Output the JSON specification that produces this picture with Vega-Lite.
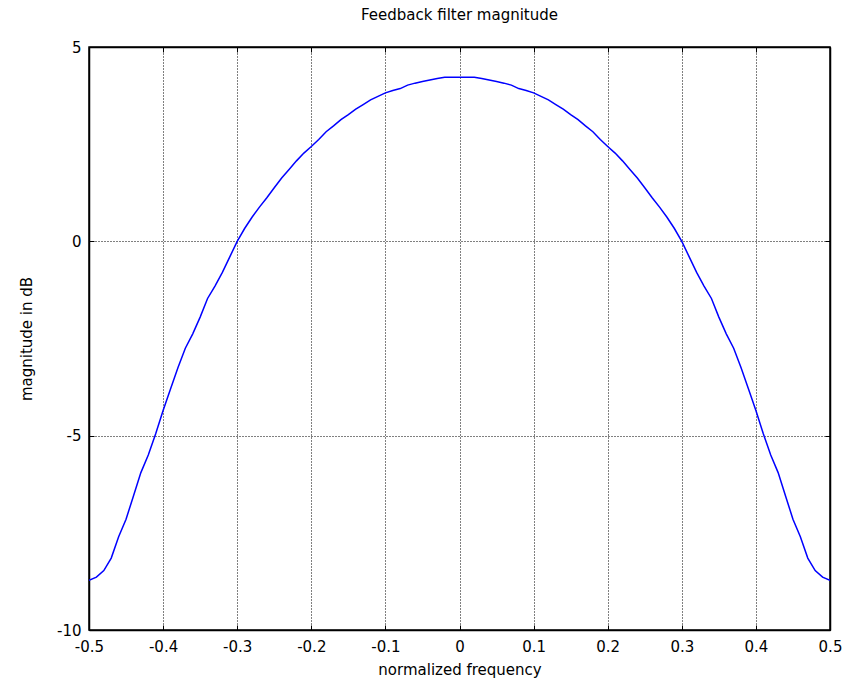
{
  "$schema": "https://vega.github.io/schema/vega-lite/v6.json",
  "width": 741,
  "height": 583,
  "autosize": {"type": "none"},
  "padding": {"left": 89, "top": 47, "right": 26, "bottom": 52},
  "background": "white",
  "title": {"text": "Feedback filter magnitude", "fontSize": 15, "fontWeight": "normal", "font": "DejaVu Sans", "color": "black", "offset": 17, "anchor": "middle"},
  "data": {"values": [
    {"f": -0.5, "db": -8.72}, {"f": -0.49, "db": -8.64}, {"f": -0.48, "db": -8.47}, {"f": -0.47, "db": -8.15},
    {"f": -0.46, "db": -7.6}, {"f": -0.45, "db": -7.15}, {"f": -0.44, "db": -6.55}, {"f": -0.43, "db": -5.95},
    {"f": -0.42, "db": -5.5}, {"f": -0.41, "db": -4.95}, {"f": -0.4, "db": -4.35}, {"f": -0.39, "db": -3.8},
    {"f": -0.38, "db": -3.25}, {"f": -0.37, "db": -2.75}, {"f": -0.36, "db": -2.38}, {"f": -0.35, "db": -1.95},
    {"f": -0.34, "db": -1.47}, {"f": -0.33, "db": -1.15}, {"f": -0.32, "db": -0.8}, {"f": -0.31, "db": -0.4},
    {"f": -0.3, "db": 0.0}, {"f": -0.29, "db": 0.33}, {"f": -0.28, "db": 0.62}, {"f": -0.27, "db": 0.88},
    {"f": -0.26, "db": 1.12}, {"f": -0.25, "db": 1.38}, {"f": -0.24, "db": 1.63}, {"f": -0.23, "db": 1.85},
    {"f": -0.22, "db": 2.07}, {"f": -0.21, "db": 2.27}, {"f": -0.2, "db": 2.44}, {"f": -0.19, "db": 2.62},
    {"f": -0.18, "db": 2.82}, {"f": -0.17, "db": 2.97}, {"f": -0.16, "db": 3.13}, {"f": -0.15, "db": 3.26},
    {"f": -0.14, "db": 3.4}, {"f": -0.13, "db": 3.52}, {"f": -0.12, "db": 3.64}, {"f": -0.11, "db": 3.73},
    {"f": -0.1, "db": 3.82}, {"f": -0.09, "db": 3.88}, {"f": -0.08, "db": 3.93}, {"f": -0.07, "db": 4.02},
    {"f": -0.06, "db": 4.07}, {"f": -0.05, "db": 4.11}, {"f": -0.04, "db": 4.15}, {"f": -0.03, "db": 4.19},
    {"f": -0.02, "db": 4.22}, {"f": -0.01, "db": 4.22}, {"f": 0.0, "db": 4.22},
    {"f": 0.01, "db": 4.22}, {"f": 0.02, "db": 4.22}, {"f": 0.03, "db": 4.19}, {"f": 0.04, "db": 4.15},
    {"f": 0.05, "db": 4.11}, {"f": 0.06, "db": 4.07}, {"f": 0.07, "db": 4.02}, {"f": 0.08, "db": 3.93},
    {"f": 0.09, "db": 3.88}, {"f": 0.1, "db": 3.82}, {"f": 0.11, "db": 3.73}, {"f": 0.12, "db": 3.64},
    {"f": 0.13, "db": 3.52}, {"f": 0.14, "db": 3.4}, {"f": 0.15, "db": 3.26}, {"f": 0.16, "db": 3.13},
    {"f": 0.17, "db": 2.97}, {"f": 0.18, "db": 2.82}, {"f": 0.19, "db": 2.62}, {"f": 0.2, "db": 2.44},
    {"f": 0.21, "db": 2.27}, {"f": 0.22, "db": 2.07}, {"f": 0.23, "db": 1.85}, {"f": 0.24, "db": 1.63},
    {"f": 0.25, "db": 1.38}, {"f": 0.26, "db": 1.12}, {"f": 0.27, "db": 0.88}, {"f": 0.28, "db": 0.62},
    {"f": 0.29, "db": 0.33}, {"f": 0.3, "db": 0.0}, {"f": 0.31, "db": -0.4}, {"f": 0.32, "db": -0.8},
    {"f": 0.33, "db": -1.15}, {"f": 0.34, "db": -1.47}, {"f": 0.35, "db": -1.95}, {"f": 0.36, "db": -2.38},
    {"f": 0.37, "db": -2.75}, {"f": 0.38, "db": -3.25}, {"f": 0.39, "db": -3.8}, {"f": 0.4, "db": -4.35},
    {"f": 0.41, "db": -4.95}, {"f": 0.42, "db": -5.5}, {"f": 0.43, "db": -5.95}, {"f": 0.44, "db": -6.55},
    {"f": 0.45, "db": -7.15}, {"f": 0.46, "db": -7.6}, {"f": 0.47, "db": -8.15}, {"f": 0.48, "db": -8.47},
    {"f": 0.49, "db": -8.64}, {"f": 0.5, "db": -8.72}
  ]},
  "layer": [
    {
      "mark": {"type": "line", "color": "#0000ff", "strokeWidth": 1.5, "clip": true},
      "encoding": {
        "x": {"field": "f", "type": "quantitative",
          "scale": {"domain": [-0.5, 0.5], "nice": false, "zero": false},
          "axis": {"orient": "bottom", "title": "normalized frequency", "values": [-0.5, -0.4, -0.3, -0.2, -0.1, 0, 0.1, 0.2, 0.3, 0.4, 0.5],
            "labelExpr": "'' + datum.value", "grid": true, "titlePadding": 8, "labelPadding": 14,
            "labelFlush": false, "labelOverlap": false, "labelBound": false}},
        "y": {"field": "db", "type": "quantitative",
          "scale": {"domain": [-10, 5], "nice": false, "zero": false},
          "axis": {"orient": "left", "title": "magnitude in dB", "values": [-10, -5, 0, 5],
            "labelExpr": "'' + datum.value", "grid": true, "titlePadding": 22, "labelPadding": 13,
            "labelFlush": false, "labelOverlap": false, "labelBound": false}}
      }
    },
    {
      "mark": {"type": "line", "opacity": 0},
      "encoding": {
        "x": {"field": "f", "type": "quantitative",
          "scale": {"domain": [-0.5, 0.5], "nice": false, "zero": false},
          "axis": {"orient": "top", "title": null, "labels": false, "grid": false, "values": [-0.5, -0.4, -0.3, -0.2, -0.1, 0, 0.1, 0.2, 0.3, 0.4, 0.5]}},
        "y": {"field": "db", "type": "quantitative",
          "scale": {"domain": [-10, 5], "nice": false, "zero": false},
          "axis": {"orient": "right", "title": null, "labels": false, "grid": false, "values": [-10, -5, 0, 5]}}
      }
    }
  ],
  "resolve": {"scale": {"x": "independent", "y": "independent"}, "axis": {"x": "independent", "y": "independent"}},
  "config": {
    "view": {"stroke": "black", "strokeWidth": 1.5},
    "axis": {
      "domainColor": "black", "domainWidth": 1.5,
      "tickColor": "black", "tickSize": -5, "tickWidth": 1,
      "gridColor": "black", "gridOpacity": 1, "gridDash": [1, 2], "gridWidth": 1,
      "labelFont": "DejaVu Sans", "labelFontSize": 15, "labelColor": "black",
      "titleFont": "DejaVu Sans", "titleFontSize": 15, "titleFontWeight": "normal", "titleColor": "black"
    }
  }
}
